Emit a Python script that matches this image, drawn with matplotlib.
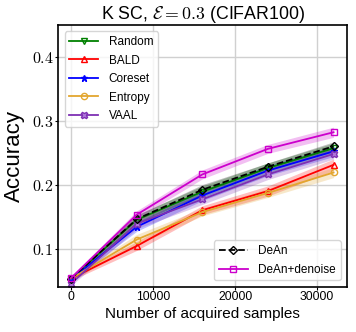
import matplotlib
matplotlib.use('Agg')
import matplotlib.pyplot as plt
import matplotlib.ticker as mticker
import numpy as np

plt.rcParams['mathtext.fontset'] = 'cm'
plt.rcParams['font.family'] = ['Liberation Sans', 'DejaVu Sans']

samples = [0, 8000, 16000, 24000, 32000]

# mean accuracy per acquisition round
random_acc = [0.053, 0.145, 0.189, 0.226, 0.257]
bald_acc = [0.053, 0.104, 0.160, 0.190, 0.231]
coreset_acc = [0.052, 0.134, 0.183, 0.222, 0.252]
entropy_acc = [0.053, 0.114, 0.157, 0.187, 0.219]
vaal_acc = [0.045, 0.139, 0.177, 0.216, 0.248]
dean_acc = [0.053, 0.146, 0.192, 0.228, 0.260]
denoise_acc = [0.054, 0.153, 0.216, 0.256, 0.282]

# std used for the shaded bands
random_std = [0.003, 0.008, 0.009, 0.008, 0.008]
bald_std = [0.003, 0.007, 0.007, 0.008, 0.009]
coreset_std = [0.003, 0.007, 0.008, 0.008, 0.008]
entropy_std = [0.003, 0.008, 0.006, 0.007, 0.008]
vaal_std = [0.003, 0.008, 0.008, 0.008, 0.008]
dean_std = [0.003, 0.006, 0.008, 0.006, 0.007]
denoise_std = [0.003, 0.006, 0.007, 0.007, 0.008]

fig = plt.figure(figsize=(3.56, 3.32), dpi=100)
ax = fig.add_axes([0.163, 0.136, 0.812, 0.789])

x = np.array(samples)

def draw(ax, y, s, color, marker, label, ls='-', mfc='none', ms=4.5):
    y = np.array(y)
    s = np.array(s)
    ax.fill_between(x, y - s, y + s, color=color, alpha=0.25, lw=0)
    return ax.plot(x, y, ls, color=color, marker=marker, mfc=mfc, ms=ms,
                   lw=1.3, label=label)[0]

h1 = draw(ax, random_acc, random_std, 'green', 'v', 'Random')
h2 = draw(ax, bald_acc, bald_std, 'red', '^', 'BALD')
h3 = draw(ax, coreset_acc, coreset_std, 'blue', '*', 'Coreset', mfc='blue')
h4 = draw(ax, entropy_acc, entropy_std, '#E3A62E', 'o', 'Entropy')
h5 = draw(ax, vaal_acc, vaal_std, '#7E2FB3', 'X', 'VAAL', mfc='#B07ADB')
h6 = draw(ax, dean_acc, dean_std, 'black', 'D', 'DeAn', ls='--')
h7 = draw(ax, denoise_acc, denoise_std, '#CC00CC', 's', 'DeAn+denoise')

ax.set_xlim(-1600, 33650)
ax.set_ylim(0.04, 0.45)
ax.set_xticks([0, 10000, 20000, 30000])
ax.set_yticks([0.1, 0.2, 0.3, 0.4])
ax.yaxis.set_major_formatter(mticker.FuncFormatter(lambda v, p: '$%.1f$' % v))
ax.tick_params(axis='x', labelsize=8.7, length=2, pad=1.2)
ax.tick_params(axis='y', labelsize=11.5, length=2, pad=1.2)
ax.grid(True, color='#d0d0d0', lw=1)
ax.set_axisbelow(True)

ax.set_title(r'K SC, $\mathcal{E}=0.3$ (CIFAR100)', fontsize=12.8, pad=3)
ax.set_xlabel('Number of acquired samples', fontsize=11, labelpad=3)
ax.set_ylabel('Accuracy', fontsize=16, labelpad=4.5)

leg_kw = dict(fontsize=8.5, handlelength=2.45, handletextpad=0.9,
              labelspacing=0.55, borderaxespad=0.55)
leg1 = ax.legend(handles=[h1, h2, h3, h4, h5], loc='upper left', **leg_kw)
ax.add_artist(leg1)
ax.legend(handles=[h6, h7], loc='lower right', **leg_kw)

for sp in ax.spines.values():
    sp.set_linewidth(1.2)

fig.savefig('out.png', dpi=100)
